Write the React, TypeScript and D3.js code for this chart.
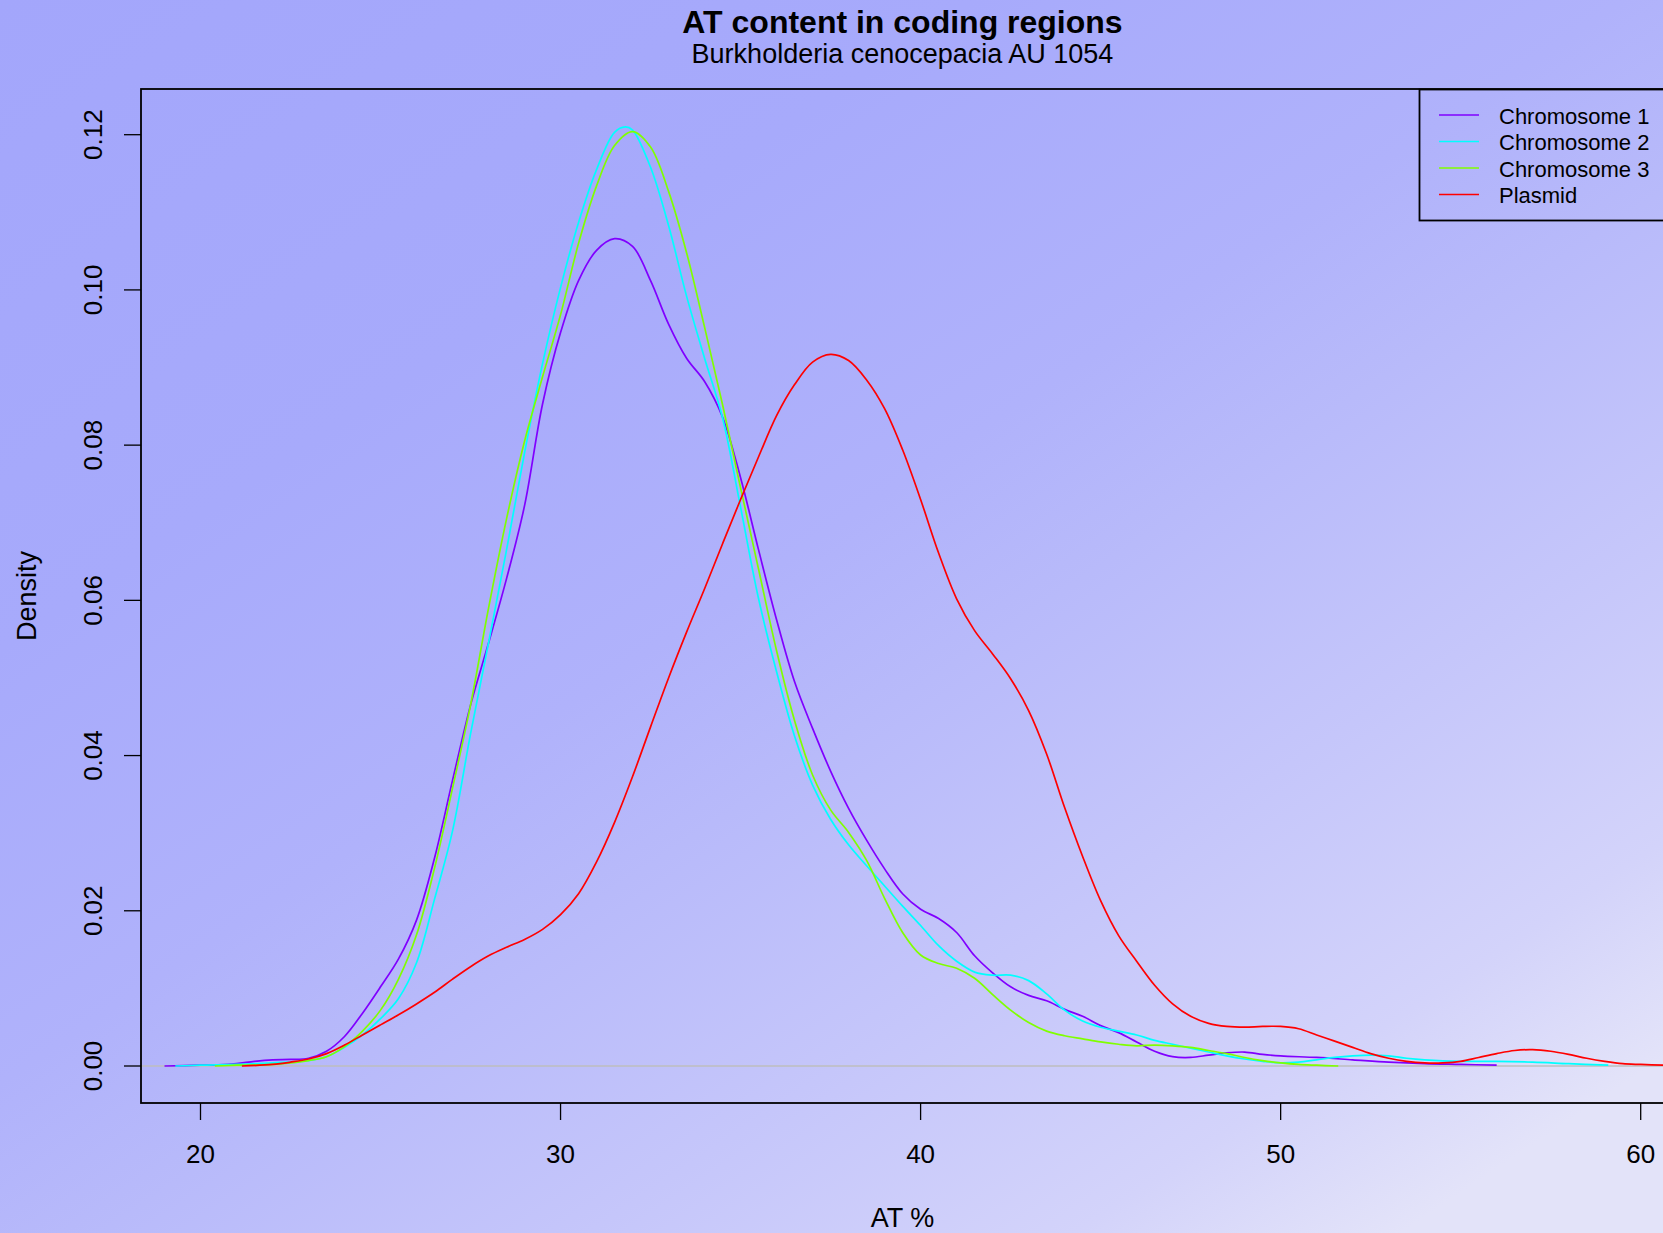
import React from "react";
import * as d3 from "d3";

// ---------- data ----------
const seriesNames = ["Chromosome 1", "Chromosome 2", "Chromosome 3", "Plasmid"];
const seriesColors = ["#8000FF", "#00FFFF", "#80FF00", "#FF0000"];

const chr1: [number, number][] = [
  [19.0, 0], [20.0, 0.0001], [20.5, 0.00015], [21.0, 0.0003], [21.5, 0.0006], [22.0, 0.0008], [22.5, 0.00085],
  [23.0, 0.001], [23.5, 0.0019], [24.0, 0.0038], [24.5, 0.0068], [25.0, 0.0102], [25.5, 0.0138], [26.0, 0.0188],
  [26.5, 0.0268], [27.0, 0.0368], [27.5, 0.0465], [28.0, 0.0545], [28.5, 0.0628], [29.0, 0.0722], [29.5, 0.0853],
  [30.0, 0.0945], [30.5, 0.1012], [31.0, 0.1051], [31.5, 0.1066], [32.0, 0.1056], [32.5, 0.1012], [33.0, 0.0956],
  [33.5, 0.0912], [34.0, 0.0882], [34.5, 0.0836], [35.0, 0.0758], [35.5, 0.0665], [36.0, 0.0575], [36.5, 0.0495],
  [37.0, 0.0435], [37.5, 0.038], [38.0, 0.0332], [38.5, 0.0291], [39.0, 0.0254], [39.5, 0.0222], [40.0, 0.0202],
  [40.5, 0.019], [41.0, 0.0172], [41.5, 0.0142], [42.0, 0.012], [42.5, 0.0102], [43.0, 0.0091], [43.5, 0.0084],
  [44.0, 0.0073], [44.5, 0.0064], [45.0, 0.0052], [45.5, 0.0043], [46.0, 0.0031], [46.5, 0.0019], [47.0, 0.0012],
  [47.5, 0.0011], [48.0, 0.0014], [48.5, 0.0017], [49.0, 0.0018], [49.5, 0.0015], [50.0, 0.0013], [51.0, 0.0011],
  [52.0, 0.0008], [53.0, 0.0005], [54.0, 0.0003], [55.0, 0.0002], [56.0, 0.0001],
];

const chr2: [number, number][] = [
  [19.3, 0], [20.0, 0.0001], [21.0, 0.0002], [22.0, 0.0004], [23.0, 0.0007], [23.5, 0.0012], [24.0, 0.0024],
  [24.5, 0.004], [25.0, 0.0061], [25.5, 0.0087], [26.0, 0.0133], [26.5, 0.0215], [27.0, 0.0303], [27.5, 0.0428],
  [28.0, 0.0545], [28.5, 0.0665], [29.0, 0.079], [29.5, 0.0905], [30.0, 0.1003], [30.5, 0.1087], [31.0, 0.1155],
  [31.5, 0.1203], [31.8, 0.121], [32.0, 0.1206], [32.5, 0.1158], [33.0, 0.1083], [33.5, 0.0992], [34.0, 0.0912],
  [34.5, 0.0835], [35.0, 0.072], [35.5, 0.0602], [36.0, 0.0508], [36.5, 0.0425], [37.0, 0.0362], [37.5, 0.0318],
  [38.0, 0.0285], [38.5, 0.0258], [39.0, 0.0232], [39.5, 0.0206], [40.0, 0.0181], [40.5, 0.0155], [41.0, 0.0135],
  [41.5, 0.0121], [42.0, 0.0117], [42.5, 0.0117], [43.0, 0.011], [43.5, 0.0093], [44.0, 0.0072], [44.5, 0.0058],
  [45.0, 0.005], [45.5, 0.0045], [46.0, 0.004], [46.5, 0.0033], [47.0, 0.0028], [47.5, 0.0023], [48.0, 0.0018],
  [48.5, 0.0013], [49.0, 0.0009], [49.5, 0.0006], [50.0, 0.0004], [50.5, 0.0005], [51.0, 0.0008], [51.5, 0.0011],
  [52.0, 0.0013], [52.5, 0.0014], [53.0, 0.0013], [53.5, 0.001], [54.0, 0.0008], [55.0, 0.0006], [56.0, 0.0006],
  [57.0, 0.0005], [58.0, 0.0003], [59.1, 0.0001],
];

const chr3: [number, number][] = [
  [20.4, 0], [21.0, 0.0001], [22.0, 0.0002], [22.5, 0.0004], [23.0, 0.0007], [23.5, 0.0012], [24.0, 0.0025],
  [24.5, 0.0045], [25.0, 0.0072], [25.5, 0.0112], [26.0, 0.0169], [26.5, 0.0255], [27.0, 0.0358], [27.5, 0.0465],
  [28.0, 0.059], [28.5, 0.0705], [29.0, 0.0805], [29.5, 0.0888], [30.0, 0.0968], [30.5, 0.106], [31.0, 0.1134],
  [31.5, 0.1186], [32.0, 0.1204], [32.5, 0.1184], [33.0, 0.1127], [33.5, 0.1048], [34.0, 0.0952], [34.5, 0.0852],
  [35.0, 0.0745], [35.5, 0.064], [36.0, 0.0535], [36.5, 0.0445], [37.0, 0.0375], [37.5, 0.033], [38.0, 0.0301],
  [38.5, 0.0265], [39.0, 0.0216], [39.5, 0.0172], [40.0, 0.0143], [40.5, 0.0132], [41.0, 0.0126], [41.5, 0.0113],
  [42.0, 0.0092], [42.5, 0.0072], [43.0, 0.0056], [43.5, 0.0045], [44.0, 0.0039], [44.5, 0.0035], [45.0, 0.0031],
  [45.5, 0.0028], [46.0, 0.0026], [46.5, 0.0027], [47.0, 0.0026], [47.5, 0.0024], [48.0, 0.002], [48.5, 0.0016],
  [49.0, 0.0011], [49.5, 0.0007], [50.0, 0.0004], [50.5, 0.0002], [51.0, 0.0001], [51.6, 0],
];

const plasmid: [number, number][] = [
  [21.15, 0], [22.0, 0.0002], [22.5, 0.0005], [23.0, 0.0009], [23.5, 0.0016], [24.0, 0.0027], [24.5, 0.004],
  [25.0, 0.0053], [25.5, 0.0066], [26.0, 0.008], [26.5, 0.0095], [27.0, 0.0112], [27.5, 0.0128], [28.0, 0.0142],
  [28.5, 0.0153], [29.0, 0.0163], [29.5, 0.0176], [30.0, 0.0195], [30.5, 0.0222], [31.0, 0.0263], [31.5, 0.0314],
  [32.0, 0.0373], [32.5, 0.0437], [33.0, 0.05], [33.5, 0.0559], [34.0, 0.0615], [34.5, 0.0673], [35.0, 0.073],
  [35.5, 0.0785], [36.0, 0.0838], [36.5, 0.0878], [37.0, 0.0907], [37.5, 0.0917], [38.0, 0.0909], [38.5, 0.0884],
  [39.0, 0.0847], [39.5, 0.0794], [40.0, 0.073], [40.5, 0.0661], [41.0, 0.0602], [41.5, 0.0561], [42.0, 0.0531],
  [42.5, 0.0499], [43.0, 0.0458], [43.5, 0.0402], [44.0, 0.0333], [44.5, 0.027], [45.0, 0.0213], [45.5, 0.0168],
  [46.0, 0.0135], [46.5, 0.0104], [47.0, 0.008], [47.5, 0.0064], [48.0, 0.0055], [48.5, 0.0051], [49.0, 0.005],
  [49.5, 0.0051], [50.0, 0.0051], [50.5, 0.0048], [51.0, 0.004], [51.5, 0.0032], [52.0, 0.0024], [52.5, 0.0016],
  [53.0, 0.001], [53.5, 0.0006], [54.0, 0.0004], [54.5, 0.0004], [55.0, 0.0006], [55.5, 0.0011], [56.0, 0.0016],
  [56.5, 0.002], [57.0, 0.0021], [57.5, 0.0019], [58.0, 0.0015], [58.5, 0.001], [59.0, 0.0006], [59.5, 0.0003],
  [60.0, 0.0002], [60.7, 0.0001],
];

const seriesData = [chr1, chr2, chr3, plasmid];
const xTicks = [20, 30, 40, 50, 60];
const yTicks = [0, 0.02, 0.04, 0.06, 0.08, 0.1, 0.12];

const titleText = "AT content in coding regions";
const subtitleText = "Burkholderia cenocepacia AU 1054";
const xLabel = "AT %";
const yLabel = "Density";

// ---------- layout ----------
const W = 1663;
const H = 1233;
const box = { left: 141, top: 89, right: 1665, bottom: 1103 };
const FONT = "'Liberation Sans', Arial, Helvetica, sans-serif";

export default function App() {
  const x = d3.scaleLinear().domain([20, 60]).range([200.5, 1640.7]);
  const y = d3.scaleLinear().domain([0, 0.12]).range([1066, 134.7]);
  const line = d3
    .line<[number, number]>()
    .x((d) => x(d[0]))
    .y((d) => y(d[1]))
    .curve(d3.curveCatmullRom.alpha(0.5));

  const legendX = 1419.5;
  const legendTop = 89.5;
  const legendRow0 = 115;
  const legendStep = 26.5;

  return (
    <svg
      width={W}
      height={H}
      style={{ position: "absolute", left: 0, top: 0, display: "block" }}
      fontFamily={FONT}
    >
      <defs>
        <linearGradient id="bg" gradientUnits="userSpaceOnUse" x1={0} y1={0} x2={1000} y2={1500}>
          <stop offset="0" stopColor="#a3a6fb" />
          <stop offset="0.3" stopColor="#a7aafb" />
          <stop offset="0.5" stopColor="#b0b2fb" />
          <stop offset="0.6" stopColor="#b8bafa" />
          <stop offset="0.75" stopColor="#c5c6fa" />
          <stop offset="0.9" stopColor="#d3d3fa" />
          <stop offset="1" stopColor="#e3e3f9" />
        </linearGradient>
        <clipPath id="plotClip">
          <rect x={box.left} y={box.top} width={box.right - box.left} height={box.bottom - box.top} />
        </clipPath>
      </defs>
      <rect x={0} y={0} width={W} height={H} fill="url(#bg)" />

      {/* zero line */}
      <line x1={box.left} x2={box.right} y1={y(0)} y2={y(0)} stroke="#bebebe" strokeWidth={1.5} />

      {/* density curves */}
      <g clipPath="url(#plotClip)">
        {seriesData.map((s, i) => (
          <path key={i} d={line(s) || ""} fill="none" stroke={seriesColors[i]} strokeWidth={1.7} />
        ))}
      </g>

      {/* box */}
      <rect
        x={box.left}
        y={box.top}
        width={box.right - box.left}
        height={box.bottom - box.top}
        fill="none"
        stroke="#000"
        strokeWidth={1.8}
      />

      {/* x axis */}
      {xTicks.map((t) => (
        <g key={"x" + t}>
          <line x1={x(t)} x2={x(t)} y1={box.bottom} y2={box.bottom + 17} stroke="#000" strokeWidth={1.3} />
          <text x={x(t)} y={1163} textAnchor="middle" fontSize={26}>
            {t}
          </text>
        </g>
      ))}

      {/* y axis */}
      {yTicks.map((t) => (
        <g key={"y" + t}>
          <line x1={box.left - 17} x2={box.left} y1={y(t)} y2={y(t)} stroke="#000" strokeWidth={1.3} />
          <text transform={`translate(101.5,${y(t)}) rotate(-90)`} textAnchor="middle" fontSize={26}>
            {t.toFixed(2)}
          </text>
        </g>
      ))}

      {/* titles */}
      <text x={902.5} y={33} textAnchor="middle" fontSize={32} fontWeight="bold">
        {titleText}
      </text>
      <text x={902.5} y={63} textAnchor="middle" fontSize={27}>
        {subtitleText}
      </text>
      <text x={902.5} y={1227} textAnchor="middle" fontSize={27}>
        {xLabel}
      </text>
      <text transform={`translate(36,596) rotate(-90)`} textAnchor="middle" fontSize={27}>
        {yLabel}
      </text>

      {/* legend */}
      <rect
        x={legendX}
        y={legendTop}
        width={box.right - legendX}
        height={131}
        fill="none"
        stroke="#000"
        strokeWidth={1.8}
      />
      {seriesNames.map((n, i) => {
        const ly = legendRow0 + i * legendStep;
        return (
          <g key={n}>
            <line x1={1439} x2={1479} y1={ly} y2={ly} stroke={seriesColors[i]} strokeWidth={1.7} />
            <text x={1499} y={ly + 8.5} fontSize={22}>
              {n}
            </text>
          </g>
        );
      })}
    </svg>
  );
}
